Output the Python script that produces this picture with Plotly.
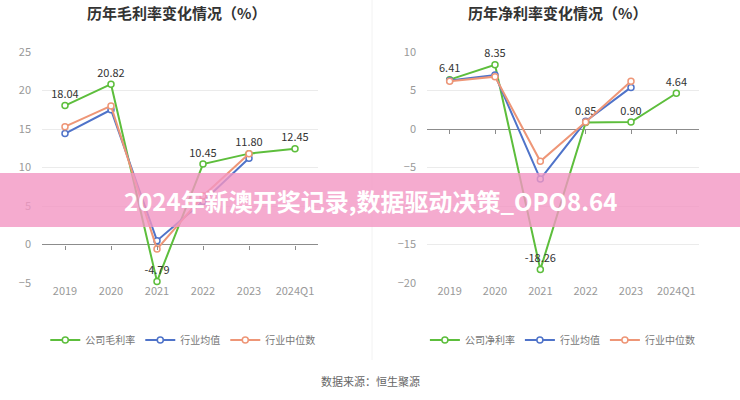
import plotly.graph_objects as go

categories = ["2019", "2020", "2021", "2022", "2023", "2024Q1"]

gross_company = [18.04, 20.82, -4.79, 10.45, 11.80, 12.45]
gross_avg = [14.4, 17.5, 0.5, 5.6, 11.2, None]
gross_median = [15.3, 18.0, -0.6, 6.3, 11.8, None]

net_company = [6.41, 8.35, -18.26, 0.85, 0.90, 4.64]
net_avg = [6.3, 7.0, -6.5, 1.0, 5.4, None]
net_median = [6.2, 6.8, -4.2, 0.9, 6.2, None]

left_names = ["公司毛利率", "行业均值", "行业中位数"]
right_names = ["公司净利率", "行业均值", "行业中位数"]

colors = ["#5DBE3C", "#4F73C9", "#EE9677"]

FONT = "Noto Sans CJK SC"

fig = go.Figure()


def add_series(values, name, color, xa, ya, legend, labels):
    fig.add_trace(go.Scatter(
        x=categories, y=values, name=name,
        mode="lines+markers+text" if labels else "lines+markers",
        text=[f"{v:.2f}" if v is not None else "" for v in values] if labels else None,
        textposition="top center",
        textfont=dict(size=11, color="#333333", family=FONT),
        line=dict(color=color, width=2),
        marker=dict(symbol="circle", size=6, color="white", line=dict(color=color, width=1.5)),
        xaxis=xa, yaxis=ya, legend=legend, cliponaxis=False,
        hoverinfo="x+y",
    ))


add_series(gross_company, left_names[0], colors[0], "x", "y", "legend", True)
add_series(gross_avg, left_names[1], colors[1], "x", "y", "legend", False)
add_series(gross_median, left_names[2], colors[2], "x", "y", "legend", False)

add_series(net_company, right_names[0], colors[0], "x2", "y2", "legend2", True)
add_series(net_avg, right_names[1], colors[1], "x2", "y2", "legend2", False)
add_series(net_median, right_names[2], colors[2], "x2", "y2", "legend2", False)

# invisible helpers so the zero-line tick axes are drawn
for xa, ya in (("x3", "y"), ("x4", "y2")):
    fig.add_trace(go.Scatter(x=categories, y=[0] * len(categories), mode="markers",
                             marker=dict(opacity=0), showlegend=False, hoverinfo="skip",
                             xaxis=xa, yaxis=ya))

ydom = [0.2925, 0.87]
left_dom = [42 / 740, 318 / 740]
right_dom = [427 / 740, 699 / 740]

tickfont = dict(size=11, color="#999999", family=FONT)

common_x = dict(type="category", categoryarray=categories, range=[-0.5, 5.5],
                showgrid=False, zeroline=False, showline=False, ticks="",
                tickfont=tickfont, fixedrange=True, automargin=False)
common_y = dict(dtick=5, showgrid=True, gridcolor="#EBEBEB", gridwidth=1,
                zeroline=True, zerolinecolor="#8C8C8C", zerolinewidth=1,
                showline=False, ticks="", tickfont=tickfont, ticklabelstandoff=10,
                automargin=False)

legend_font = dict(size=10, color="#777777", family=FONT)

fig.update_layout(
    width=740, height=400,
    margin=dict(l=0, r=0, t=0, b=0, pad=0, autoexpand=False),
    paper_bgcolor="white", plot_bgcolor="white",
    font=dict(family=FONT),
    xaxis=dict(domain=left_dom, anchor="y", **common_x),
    yaxis=dict(domain=ydom, anchor="x", range=[-5, 25], **common_y),
    xaxis2=dict(domain=right_dom, anchor="y2", **common_x),
    yaxis2=dict(domain=ydom, anchor="x2", range=[-20, 10], **common_y),
    xaxis3=dict(type="category", categoryarray=categories, range=[-0.5, 5.5],
                overlaying="x", anchor="free", position=0.2925 + 5 / 30 * 0.5775,
                showgrid=False, zeroline=False, showline=False, ticks="outside",
                ticklen=4, tickcolor="#8C8C8C", showticklabels=False, side="bottom",
                automargin=False),
    xaxis4=dict(type="category", categoryarray=categories, range=[-0.5, 5.5],
                overlaying="x2", anchor="free", position=0.2925 + 20 / 30 * 0.5775,
                showgrid=False, zeroline=False, showline=False, ticks="outside",
                ticklen=4, tickcolor="#8C8C8C", showticklabels=False, side="bottom",
                automargin=False),
    legend=dict(orientation="h", x=0.247, xanchor="center", y=0.15, yanchor="middle",
                font=legend_font, itemwidth=30, bgcolor="rgba(0,0,0,0)"),
    legend2=dict(orientation="h", x=0.76, xanchor="center", y=0.15, yanchor="middle",
                 font=legend_font, itemwidth=30, bgcolor="rgba(0,0,0,0)"),
    showlegend=True,
)

fig.add_annotation(text="<b>历年毛利率变化情况（%）</b>", x=176 / 740, y=1 - 13 / 400,
                   xref="paper", yref="paper", xanchor="center", yanchor="middle",
                   showarrow=False, font=dict(size=15, color="#333333", family=FONT))
fig.add_annotation(text="<b>历年净利率变化情况（%）</b>", x=557 / 740, y=1 - 13 / 400,
                   xref="paper", yref="paper", xanchor="center", yanchor="middle",
                   showarrow=False, font=dict(size=15, color="#333333", family=FONT))
fig.add_annotation(text="数据来源：恒生聚源", x=0.5, y=1 - 381 / 400,
                   xref="paper", yref="paper", xanchor="center", yanchor="middle",
                   showarrow=False, font=dict(size=11, color="#666666", family=FONT))

# divider
fig.add_shape(type="line", xref="paper", yref="paper", x0=372 / 740, x1=372 / 740,
              y0=1 - 360 / 400, y1=1, line=dict(color="#F2F2F2", width=1), layer="below")

# banner
fig.add_shape(type="rect", xref="paper", yref="paper", x0=0, x1=1,
              y0=1 - 227 / 400, y1=1 - 173 / 400,
              fillcolor="rgba(242,150,195,0.8)", line=dict(width=0), layer="above")
fig.add_annotation(text="<b>2024年新澳开奖记录,数据驱动决策_OPO8.64</b>", x=0.5, y=1 - 200 / 400,
                   xref="paper", yref="paper", xanchor="center", yanchor="middle",
                   showarrow=False, font=dict(size=24, color="white", family=FONT))

fig.write_html("out.html")
